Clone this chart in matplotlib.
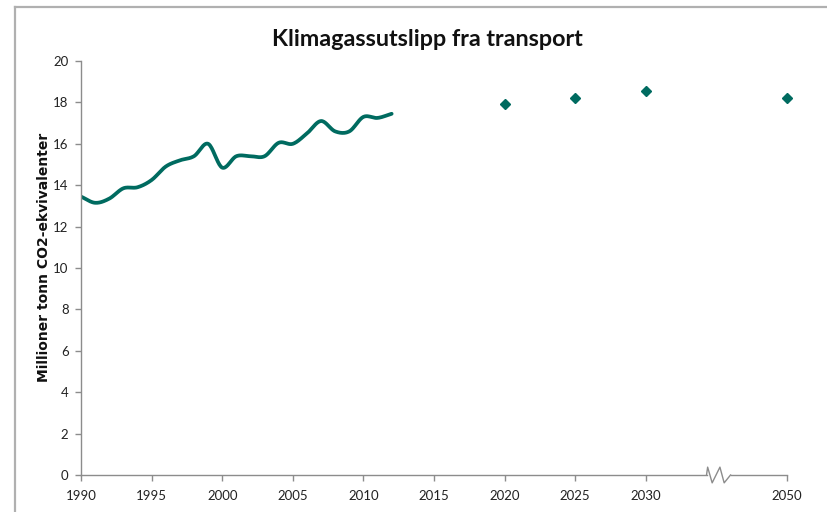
import numpy as np
import matplotlib
matplotlib.use("Agg")
import matplotlib.pyplot as plt
from matplotlib.lines import Line2D

# ---- data ----
hist_years = list(range(1990, 2013))
hist_values = [13.45, 13.15, 13.35, 13.85, 13.9, 14.25, 14.9, 15.2, 15.4, 16.0,
               14.85, 15.4, 15.4, 15.4, 16.05, 16.0, 16.5, 17.1, 16.6, 16.6,
               17.3, 17.25, 17.45]
proj_years = [2020, 2025, 2030, 2050]
proj_values = [17.9, 18.2, 18.55, 18.2]
tick_years = [1990, 1995, 2000, 2005, 2010, 2015, 2020, 2025, 2030, 2050]
y_ticks = list(range(0, 21, 2))

title = "Klimagassutslipp fra transport"
ylabel = "Millioner tonn CO2-ekvivalenter"

color = "#006b60"
font = "Lato"


def pos(year):
    # broken axis: 2050 is drawn where 2040 would be
    return year if year <= 2035 else year - 10


def smooth(x, y, n=20):
    # Catmull-Rom rendering of the smoothed line (Excel style)
    x = np.asarray(x, float)
    y = np.asarray(y, float)
    px = np.concatenate([[2 * x[0] - x[1]], x, [2 * x[-1] - x[-2]]])
    py = np.concatenate([[2 * y[0] - y[1]], y, [2 * y[-1] - y[-2]]])
    xs, ys = [], []
    t = np.linspace(0, 1, n, endpoint=False)
    for i in range(1, len(px) - 2):
        p0, p1, p2, p3 = py[i - 1], py[i], py[i + 1], py[i + 2]
        q0, q1, q2, q3 = px[i - 1], px[i], px[i + 1], px[i + 2]
        f = lambda a0, a1, a2, a3: 0.5 * ((2 * a1) + (-a0 + a2) * t +
                                          (2 * a0 - 5 * a1 + 4 * a2 - a3) * t ** 2 +
                                          (-a0 + 3 * a1 - 3 * a2 + a3) * t ** 3)
        xs.append(f(q0, q1, q2, q3))
        ys.append(f(p0, p1, p2, p3))
    xs.append([x[-1]])
    ys.append([y[-1]])
    return np.concatenate(xs), np.concatenate(ys)


fig = plt.figure(figsize=(8.27, 5.12), dpi=100)
ax = fig.add_axes([81 / 827, 1 - 475 / 512, (787 - 81) / 827, (475 - 61) / 512])

sx, sy = smooth(hist_years, hist_values)
ax.plot(sx, sy, color=color, lw=2.7, solid_capstyle="round")
ax.plot([pos(y) for y in proj_years], proj_values, linestyle="none",
        marker="D", markersize=5.5, color=color, clip_on=False)

ax.set_xlim(1990, 2040)
ax.set_ylim(0, 20)
ax.set_xticks([pos(y) for y in tick_years])
ax.set_xticklabels([str(y) for y in tick_years])
ax.set_yticks(y_ticks)

spine_c = "#8c8c8c"
for s in ["top", "right", "bottom"]:
    ax.spines[s].set_visible(False)
ax.spines["left"].set_color(spine_c)
ax.spines["left"].set_linewidth(1.0)
ax.tick_params(axis="both", colors=spine_c, length=4, width=1.0,
               labelcolor="#222222", labelsize=9.5)
for lab in ax.get_xticklabels() + ax.get_yticklabels():
    lab.set_fontfamily(font)
ax.tick_params(axis="x", pad=7)
ax.tick_params(axis="y", pad=5)

# bottom axis line with break marker
bx0, bx1 = 2034.3, 2036.0
amp = 0.38
ax.plot([1990, bx0], [0, 0], color=spine_c, lw=1.0, clip_on=False)
ax.plot([bx0, bx0 + 0.08, bx0 + 0.4, bx0 + 0.95, bx0 + 1.25, bx1],
        [0, amp, -amp, amp, -amp, 0], color=spine_c, lw=1.0, clip_on=False)
ax.plot([bx1, 2040], [0, 0], color=spine_c, lw=1.0, clip_on=False)

ax.set_ylabel(ylabel, fontfamily="DejaVu Sans", fontweight="bold", fontsize=10,
              color="#111111")
ax.yaxis.set_label_coords(-30 / 706, (475 - 257) / 414)

fig.text(427 / 827, 1 - 40 / 512, title, ha="center", va="center",
         fontfamily=font, fontweight="bold", fontsize=16.8, color="#111111")

# outer frame (partial, as in the cropped screenshot)
border_c = "#b0b0b0"
fig.add_artist(Line2D([15 / 827, 15 / 827], [0, 1 - 7 / 512], color=border_c,
                      lw=1.6, transform=fig.transFigure))
fig.add_artist(Line2D([15 / 827, 1], [1 - 7 / 512, 1 - 7 / 512], color=border_c,
                      lw=1.6, transform=fig.transFigure))

fig.savefig("out.png", dpi=100)
